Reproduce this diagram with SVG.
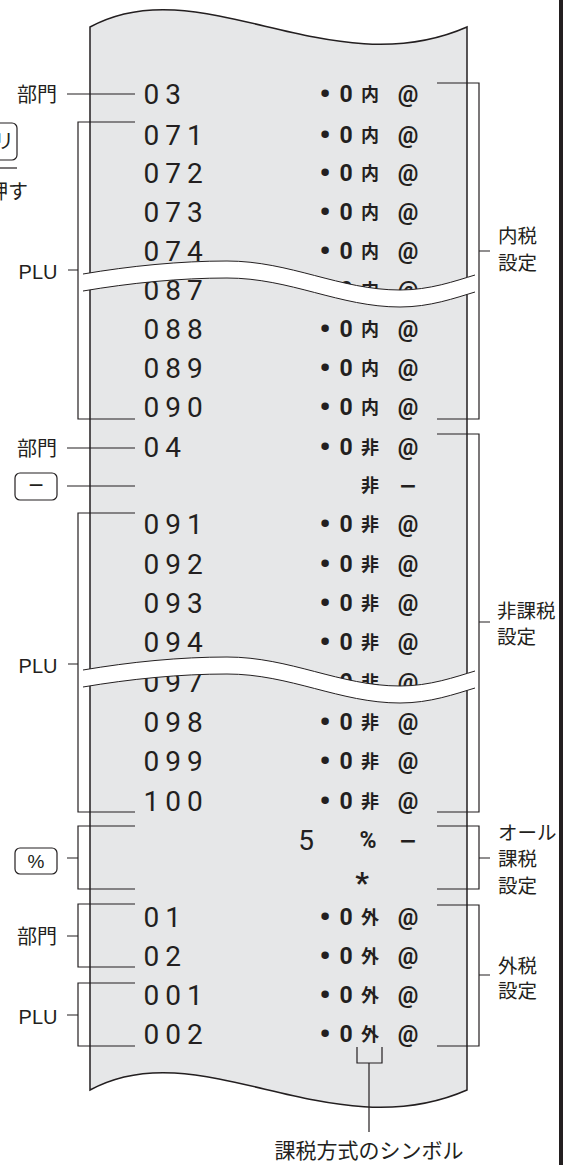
<svg xmlns="http://www.w3.org/2000/svg" width="563" height="1165" viewBox="0 0 563 1165">
<style>
.ln{stroke:#231f20;stroke-width:1.2;fill:none}
.num{font-family:Roboto,"Liberation Sans",sans-serif;font-size:28px;letter-spacing:6px;fill:#231f20}
.rc{font-family:Roboto,"Liberation Sans",sans-serif;font-weight:700;font-size:23px;fill:#231f20;text-anchor:middle}
.bul{font-family:Roboto,"Liberation Sans",sans-serif;font-weight:700;font-size:32px;fill:#231f20;text-anchor:middle}
.mn{font-family:"DejaVu Sans",sans-serif;font-weight:700;font-size:22px;fill:#231f20;text-anchor:middle}
.kj{font-family:"Noto Sans CJK JP",sans-serif;font-weight:700;font-size:18px;fill:#231f20;text-anchor:middle}
.lbl{font-family:"Noto Sans CJK JP",sans-serif;font-size:20px;fill:#231f20}
.rl{font-family:"Noto Sans CJK JP",sans-serif;font-size:19.5px;fill:#231f20}
.lat{font-family:"Liberation Sans",Arial,sans-serif;font-size:20px;fill:#231f20}
.key{fill:#fff;stroke:#231f20;stroke-width:1.2}
.band{fill:#fff;stroke:none}
.edge{fill:none;stroke:#231f20;stroke-width:1}
</style>
<rect width="563" height="1165" fill="#fff"/>
<g id="paper">
<path d="M90,27 C200,-33 330,87 467,27 L467,1090 C330,1150 200,1030 90,1090 Z" fill="#e6e7e8" stroke="#231f20" stroke-width="1.5"/>
</g>
<g id="rows">
<g id="row-03"><text class="num" x="143.5" y="104">03</text><text class="bul" x="325" y="105">•</text><text class="rc" y="102"><tspan x="346">0</tspan><tspan x="408">@</tspan></text><text class="kj" x="370" y="101">内</text></g>
<g id="row-071"><text class="num" x="143.5" y="145">071</text><text class="bul" x="325" y="146">•</text><text class="rc" y="143"><tspan x="346">0</tspan><tspan x="408">@</tspan></text><text class="kj" x="370" y="142">内</text></g>
<g id="row-072"><text class="num" x="143.5" y="183">072</text><text class="bul" x="325" y="184">•</text><text class="rc" y="181"><tspan x="346">0</tspan><tspan x="408">@</tspan></text><text class="kj" x="370" y="180">内</text></g>
<g id="row-073"><text class="num" x="143.5" y="222">073</text><text class="bul" x="325" y="223">•</text><text class="rc" y="220"><tspan x="346">0</tspan><tspan x="408">@</tspan></text><text class="kj" x="370" y="219">内</text></g>
<g id="row-074"><text class="num" x="143.5" y="261">074</text><text class="bul" x="325" y="262">•</text><text class="rc" y="259"><tspan x="346">0</tspan><tspan x="408">@</tspan></text><text class="kj" x="370" y="258">内</text></g>
<g id="row-087"><text class="num" x="143.5" y="300">087</text><text class="bul" x="325" y="301">•</text><text class="rc" y="298"><tspan x="346">0</tspan><tspan x="408">@</tspan></text><text class="kj" x="370" y="297">内</text></g>
<g id="row-088"><text class="num" x="143.5" y="339">088</text><text class="bul" x="325" y="340">•</text><text class="rc" y="337"><tspan x="346">0</tspan><tspan x="408">@</tspan></text><text class="kj" x="370" y="336">内</text></g>
<g id="row-089"><text class="num" x="143.5" y="378">089</text><text class="bul" x="325" y="379">•</text><text class="rc" y="376"><tspan x="346">0</tspan><tspan x="408">@</tspan></text><text class="kj" x="370" y="375">内</text></g>
<g id="row-090"><text class="num" x="143.5" y="417">090</text><text class="bul" x="325" y="418">•</text><text class="rc" y="415"><tspan x="346">0</tspan><tspan x="408">@</tspan></text><text class="kj" x="370" y="414">内</text></g>
<g id="row-04"><text class="num" x="143.5" y="457">04</text><text class="bul" x="325" y="458">•</text><text class="rc" y="455"><tspan x="346">0</tspan><tspan x="408">@</tspan></text><text class="kj" x="370" y="454">非</text></g>
<g id="row-minus"><text class="kj" x="370" y="492">非</text><text class="mn" x="408" y="493">−</text></g>
<g id="row-091"><text class="num" x="143.5" y="534">091</text><text class="bul" x="325" y="535">•</text><text class="rc" y="532"><tspan x="346">0</tspan><tspan x="408">@</tspan></text><text class="kj" x="370" y="531">非</text></g>
<g id="row-092"><text class="num" x="143.5" y="574">092</text><text class="bul" x="325" y="575">•</text><text class="rc" y="572"><tspan x="346">0</tspan><tspan x="408">@</tspan></text><text class="kj" x="370" y="571">非</text></g>
<g id="row-093"><text class="num" x="143.5" y="613">093</text><text class="bul" x="325" y="614">•</text><text class="rc" y="611"><tspan x="346">0</tspan><tspan x="408">@</tspan></text><text class="kj" x="370" y="610">非</text></g>
<g id="row-094"><text class="num" x="143.5" y="652">094</text><text class="bul" x="325" y="653">•</text><text class="rc" y="650"><tspan x="346">0</tspan><tspan x="408">@</tspan></text><text class="kj" x="370" y="649">非</text></g>
<g id="row-097"><text class="num" x="143.5" y="692">097</text><text class="bul" x="325" y="693">•</text><text class="rc" y="690"><tspan x="346">0</tspan><tspan x="408">@</tspan></text><text class="kj" x="370" y="689">非</text></g>
<g id="row-098"><text class="num" x="143.5" y="732">098</text><text class="bul" x="325" y="733">•</text><text class="rc" y="730"><tspan x="346">0</tspan><tspan x="408">@</tspan></text><text class="kj" x="370" y="729">非</text></g>
<g id="row-099"><text class="num" x="143.5" y="771">099</text><text class="bul" x="325" y="772">•</text><text class="rc" y="769"><tspan x="346">0</tspan><tspan x="408">@</tspan></text><text class="kj" x="370" y="768">非</text></g>
<g id="row-100"><text class="num" x="143.5" y="811">100</text><text class="bul" x="325" y="812">•</text><text class="rc" y="809"><tspan x="346">0</tspan><tspan x="408">@</tspan></text><text class="kj" x="370" y="808">非</text></g>
<g id="row-pct"><text class="num" x="306" y="850" text-anchor="middle" style="letter-spacing:0">5</text><text class="rc" x="368" y="848">%</text><text class="mn" x="408" y="848">−</text></g>
<g id="row-star"><text class="rc" x="362" y="893" style="font-size:30px">*</text></g>
<g id="row-01"><text class="num" x="143.5" y="927">01</text><text class="bul" x="325" y="928">•</text><text class="rc" y="925"><tspan x="346">0</tspan><tspan x="408">@</tspan></text><text class="kj" x="370" y="924">外</text></g>
<g id="row-02"><text class="num" x="143.5" y="966">02</text><text class="bul" x="325" y="967">•</text><text class="rc" y="964"><tspan x="346">0</tspan><tspan x="408">@</tspan></text><text class="kj" x="370" y="963">外</text></g>
<g id="row-001"><text class="num" x="143.5" y="1005">001</text><text class="bul" x="325" y="1006">•</text><text class="rc" y="1003"><tspan x="346">0</tspan><tspan x="408">@</tspan></text><text class="kj" x="370" y="1002">外</text></g>
<g id="row-002"><text class="num" x="143.5" y="1044">002</text><text class="bul" x="325" y="1045">•</text><text class="rc" y="1042"><tspan x="346">0</tspan><tspan x="408">@</tspan></text><text class="kj" x="370" y="1041">外</text></g>
</g>
<g id="break-1">
<path class="band" d="M83,274 C130,266 180,261 227,261 C290,261 340,290 400,290 C430,290 455,281 475,275 L475,292 C455,298 430,307 400,307 C340,307 290,278 227,278 C180,278 130,283 83,291 Z"/>
<path class="edge" d="M83,274 C130,266 180,261 227,261 C290,261 340,290 400,290 C430,290 455,281 475,275"/>
<path class="edge" d="M83,291 C130,283 180,278 227,278 C290,278 340,307 400,307 C430,307 455,298 475,292"/>
</g>
<g id="break-2">
<path class="band" d="M83,670 C130,662 180,657 227,657 C290,657 340,686 400,686 C430,686 455,677 475,671 L475,688 C455,694 430,703 400,703 C340,703 290,674 227,674 C180,674 130,679 83,687 Z"/>
<path class="edge" d="M83,670 C130,662 180,657 227,657 C290,657 340,686 400,686 C430,686 455,677 475,671"/>
<path class="edge" d="M83,687 C130,679 180,674 227,674 C290,674 340,703 400,703 C430,703 455,694 475,688"/>
</g>
<g id="connectors">
<path class="ln" d="M67,94 H135"/>
<path class="ln" d="M135,122 H78 V419 H135 M68,270 H78"/>
<path class="ln" d="M67,448 H135"/>
<path class="ln" d="M67,486 H135"/>
<path class="ln" d="M135,513 H78 V812 H135 M68,664 H78"/>
<path class="ln" d="M135,826 H78 V889 H135 M67,858 H78"/>
<path class="ln" d="M135,904 H78 V967 H135 M67,936 H78"/>
<path class="ln" d="M135,983 H78 V1046 H135 M67,1015 H78"/>
<path class="ln" d="M437,83 H479 V419 H437 M479,251 H490"/>
<path class="ln" d="M437,434 H479 V812 H437 M479,622 H490"/>
<path class="ln" d="M437,826 H479 V889 H437 M479,858 H490"/>
<path class="ln" d="M437,905 H479 V1046 H437 M479,975 H490"/>
<path class="ln" d="M357,1047 V1063 H382 V1047 M369,1063 V1132"/>
<path class="ln" d="M0,168 H17"/>
</g>
<g id="key-ri"><rect class="key" x="-20" y="123" width="37" height="37" rx="5"/><text class="lbl" x="4" y="148.5" text-anchor="middle">リ</text></g>
<g id="label-osu"><text class="lbl" x="28" y="199" text-anchor="end">押す</text></g>
<g id="label-bumon-1"><text class="lbl" x="57" y="101.5" text-anchor="end">部門</text></g>
<g id="label-plu-1"><text class="lat" x="57.5" y="279" text-anchor="end">PLU</text></g>
<g id="label-bumon-2"><text class="lbl" x="57" y="455.5" text-anchor="end">部門</text></g>
<g id="key-minus"><rect class="key" x="15" y="473" width="42" height="27" rx="5"/><text class="lat" x="36" y="494" text-anchor="middle" style="font-size:26px">−</text></g>
<g id="label-plu-2"><text class="lat" x="57.5" y="673" text-anchor="end">PLU</text></g>
<g id="key-pct"><rect class="key" x="15" y="848" width="42" height="26" rx="5"/><text class="lat" x="36" y="868" text-anchor="middle" style="font-size:19px">%</text></g>
<g id="label-bumon-3"><text class="lbl" x="57" y="943.5" text-anchor="end">部門</text></g>
<g id="label-plu-3"><text class="lat" x="57.5" y="1024" text-anchor="end">PLU</text></g>
<g id="label-uchizei"><text class="rl" x="498" y="242.5">内税<tspan x="498" dy="27">設定</tspan></text></g>
<g id="label-hikazei"><text class="rl" x="497" y="617.5">非課税<tspan x="497" dy="26">設定</tspan></text></g>
<g id="label-all"><text class="rl" x="498" y="839.5">オール<tspan x="498" dy="26">課税</tspan><tspan x="498" dy="27">設定</tspan></text></g>
<g id="label-sotozei"><text class="rl" x="498" y="972.5">外税<tspan x="498" dy="25">設定</tspan></text></g>
<g id="label-symbol"><text class="lbl" x="369" y="1158" text-anchor="middle" style="font-size:21px">課税方式のシンボル</text></g>
<rect id="edge-bar" x="559" y="0" width="4" height="1165" fill="#231f20"/>
</svg>
